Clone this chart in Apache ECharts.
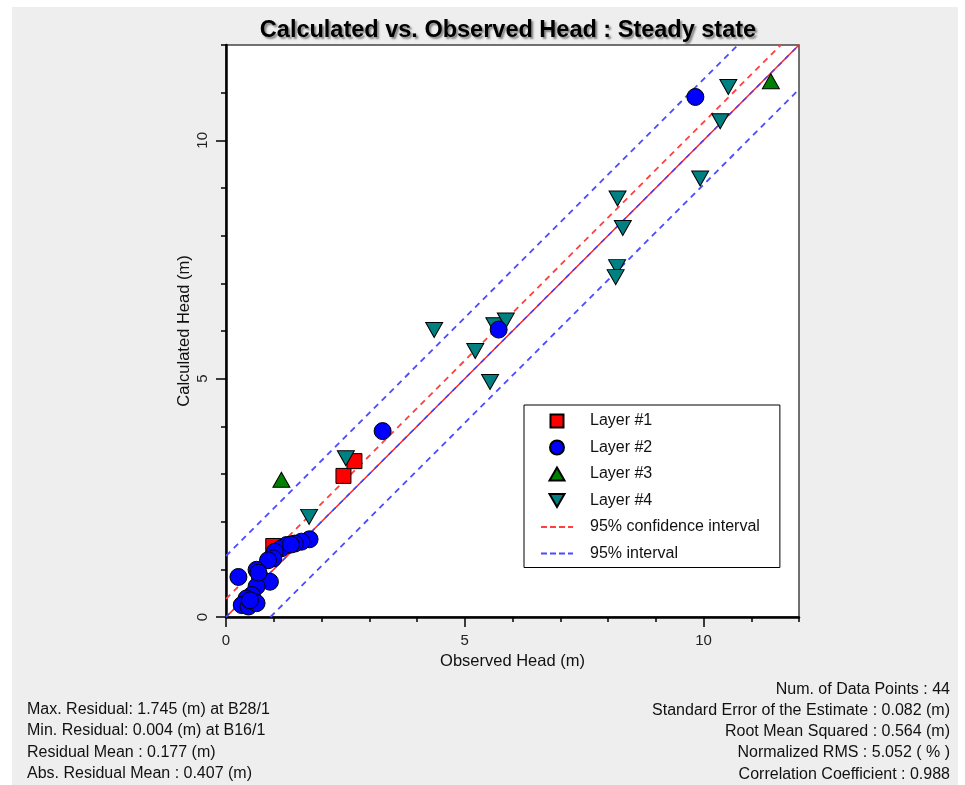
<!DOCTYPE html>
<html><head><meta charset="utf-8">
<script src="https://cdn.jsdelivr.net/npm/echarts@6/dist/echarts.min.js"></script>
<style>
html,body{margin:0;padding:0;background:#fff;}
#panel{position:absolute;left:12px;top:7px;width:946px;height:778px;background:#eeeeee;}
#c{position:absolute;left:0;top:0;width:965px;height:785px;}
</style>
</head><body><div id="panel"></div><div id="c"></div>
<script>
// ---- text ----
const titleText = 'Calculated vs. Observed Head : Steady state';
const xAxisName = 'Observed Head (m)';
const yAxisName = 'Calculated Head (m)';
const legendNames = ['Layer #1', 'Layer #2', 'Layer #3', 'Layer #4', '95% confidence interval', '95% interval'];
const statsLeft = [
  'Max. Residual: 1.745 (m) at B28/1',
  'Min. Residual: 0.004 (m) at B16/1',
  'Residual Mean : 0.177 (m)',
  'Abs. Residual Mean : 0.407 (m)'
];
const statsRight = [
  'Num. of Data Points : 44',
  'Standard Error of the Estimate : 0.082 (m)',
  'Root Mean Squared : 0.564 (m)',
  'Normalized RMS : 5.052 ( % )',
  'Correlation Coefficient : 0.988'
];

// ---- axis ranges / ticks ----
const axisMin = 0, axisMax = 12, minorStep = 1;
const labelMax = 10, labelStep = 5;

// ---- data [observed, calculated] ----
const layer1 = [[2.46, 2.96], [2.69, 3.27], [0.99, 1.49]];
const layer2 = [
  [9.83, 10.91], [5.71, 6.03], [3.28, 3.90], [1.75, 1.63], [1.58, 1.58],
  [1.44, 1.54], [1.27, 1.51], [1.16, 1.44], [1.02, 1.37], [0.99, 1.23],
  [0.88, 1.19], [0.26, 0.84], [0.64, 0.99], [0.71, 0.84], [0.92, 0.74],
  [0.64, 0.64], [0.54, 0.46], [0.43, 0.39], [0.61, 0.32], [0.33, 0.25],
  [0.47, 0.22], [0.64, 0.29], [1.36, 1.52], [0.68, 0.93], [0.50, 0.35]
];
const layer3 = [[1.16, 2.88], [11.41, 11.24]];
const layer4 = [
  [10.52, 11.12], [10.35, 10.40], [9.93, 9.20], [8.20, 8.78], [8.31, 8.16],
  [8.19, 7.34], [8.16, 7.13], [4.36, 6.02], [5.62, 6.12], [5.86, 6.22],
  [5.22, 5.58], [5.53, 4.93], [2.51, 3.33], [1.74, 2.10]
];
const identityLine = [[0, 0], [12, 12]];
const confidenceLine = [[0, 0.38], [11.62, 12]];
const intervalUpper = [[0, 1.28], [10.72, 12]];
const intervalLower = [[0.93, 0], [12, 11.07]];

const chart = echarts.init(document.getElementById('c'), null, {renderer: 'canvas'});
const FONT = '"Liberation Sans", Arial, sans-serif';
// legend icons: the leading moveTo points fix the icon box to 32x14 so the shape keeps its size
const dashIcon = 'path://M0,0M32,14M0,6h6v2h-6zM9,6h6v2h-6zM18,6h6v2h-6zM27,6h5v2h-5z';
const squareIcon = 'path://M0,0M32,14M9.5,0.5h13v13h-13z';
const triUpIcon = 'path://M0,0M32,14M16,0.5L23.5,13.5L8.5,13.5z';
const triDownIcon = 'path://M0,0M32,14M8.5,0.5L23.5,0.5L16,13.5z';

const plot = {left: 226, top: 45, width: 573, height: 572};
const subH = plot.height * labelMax / axisMax;
const subW = plot.width * labelMax / axisMax;

function scatter(name, data, symbol, size, color, rotate, z) {
  return {
    name, type: 'scatter', data, symbol, symbolSize: size, symbolRotate: rotate || 0,
    xAxisIndex: 0, yAxisIndex: 0, z: z,
    itemStyle: {color, borderColor: '#000', borderWidth: 1, opacity: 1},
    emphasis: {disabled: true}
  };
}
function line(name, data, color, type, width, z) {
  return {
    name, type: 'line', data, symbol: 'none', xAxisIndex: 0, yAxisIndex: 0, z: z,
    lineStyle: {color, type, width}, itemStyle: {color}, silent: true,
    emphasis: {disabled: true}
  };
}

chart.setOption({
  animation: false,
  backgroundColor: 'transparent',
  textStyle: {fontFamily: FONT},
  title: {
    text: titleText, left: 503, textAlign: 'center', top: 14,
    textStyle: {
      fontFamily: FONT, fontSize: 23.5, fontWeight: 'bold', color: '#000',
      textShadowColor: 'rgba(0,0,0,0.45)', textShadowOffsetX: 2, textShadowOffsetY: 2, textShadowBlur: 2
    }
  },
  grid: [
    {left: plot.left, top: plot.top, width: plot.width, height: plot.height,
     show: true, backgroundColor: '#fff', borderColor: '#444', borderWidth: 1.5},
    {left: plot.left, top: plot.top + plot.height - subH, width: subW, height: subH, show: false}
  ],
  xAxis: [
    {gridIndex: 0, type: 'value', min: axisMin, max: axisMax, interval: minorStep,
     name: xAxisName, nameLocation: 'middle', nameGap: 36,
     nameTextStyle: {fontFamily: FONT, fontSize: 16.5, color: '#111'},
     axisLine: {show: true, lineStyle: {color: '#000', width: 2.5}},
     axisTick: {show: true, length: 5, lineStyle: {color: '#000', width: 1.5}},
     axisLabel: {show: false}, splitLine: {show: false}},
    {gridIndex: 1, type: 'value', min: axisMin, max: labelMax, interval: labelStep,
     axisLine: {show: false},
     axisTick: {show: true, length: 10, lineStyle: {color: '#000', width: 1.5}},
     axisLabel: {show: true, margin: 16, fontFamily: FONT, fontSize: 15, color: '#222'},
     splitLine: {show: false}}
  ],
  yAxis: [
    {gridIndex: 0, type: 'value', min: axisMin, max: axisMax, interval: minorStep,
     name: yAxisName, nameLocation: 'middle', nameGap: 33.5, nameRotate: 90,
     nameTextStyle: {fontFamily: FONT, fontSize: 16.5, color: '#111'},
     axisLine: {show: true, lineStyle: {color: '#000', width: 2.5}},
     axisTick: {show: true, length: 5, lineStyle: {color: '#000', width: 1.5}},
     axisLabel: {show: false}, splitLine: {show: false}},
    {gridIndex: 1, type: 'value', min: axisMin, max: labelMax, interval: labelStep,
     axisLine: {show: false},
     axisTick: {show: true, length: 10, lineStyle: {color: '#000', width: 1.5}},
     axisLabel: {show: true, margin: 16, rotate: 90, fontFamily: FONT, fontSize: 15, color: '#222'},
     splitLine: {show: false}}
  ],
  legend: {
    left: 524, top: 405, orient: 'vertical',
    itemWidth: 32, itemHeight: 14, itemGap: 10.5,
    padding: [8, 20, 6, 16],
    backgroundColor: '#fff', borderColor: '#000', borderWidth: 1,
    selectedMode: false,
    textStyle: {fontFamily: FONT, fontSize: 16, color: '#111', padding: [0, 0, 0, 12]},
    data: [
      {name: legendNames[0], icon: squareIcon},
      {name: legendNames[1], icon: 'circle'},
      {name: legendNames[2], icon: triUpIcon},
      {name: legendNames[3], icon: triDownIcon},
      {name: legendNames[4], icon: dashIcon},
      {name: legendNames[5], icon: dashIcon}
    ]
  },
  graphic: [
    {type: 'text', x: 27, y: 699, silent: true,
     style: {text: statsLeft.join('\n'), font: '16px ' + FONT, lineHeight: 21.3, fill: '#111'}},
    {type: 'text', x: 950, y: 678.5, silent: true,
     style: {text: statsRight.join('\n'), font: '16px ' + FONT, lineHeight: 21.3, fill: '#111', textAlign: 'right'}}
  ],
  series: [
    line('', identityLine, '#ff2020', 'solid', 1.5, 1),
    line(' ', identityLine, '#4040ff', [5, 5], 1.5, 1),
    line(legendNames[4], confidenceLine, '#ff4040', [6, 5], 1.8, 1),
    line(legendNames[5], intervalUpper, '#4b4bff', [6, 5], 1.8, 1),
    line(legendNames[5], intervalLower, '#4b4bff', [6, 5], 1.8, 1),
    scatter(legendNames[0], layer1, 'rect', 15, '#ff0000', 0, 2),
    scatter(legendNames[2], layer3, 'triangle', [17, 15], '#008000', 0, 2),
    scatter(legendNames[3], layer4, 'triangle', [17, 15], '#008080', 180, 2),
    scatter(legendNames[1], layer2, 'circle', 17, '#0000ff', 0, 3)
  ]
});
</script>
</body></html>
